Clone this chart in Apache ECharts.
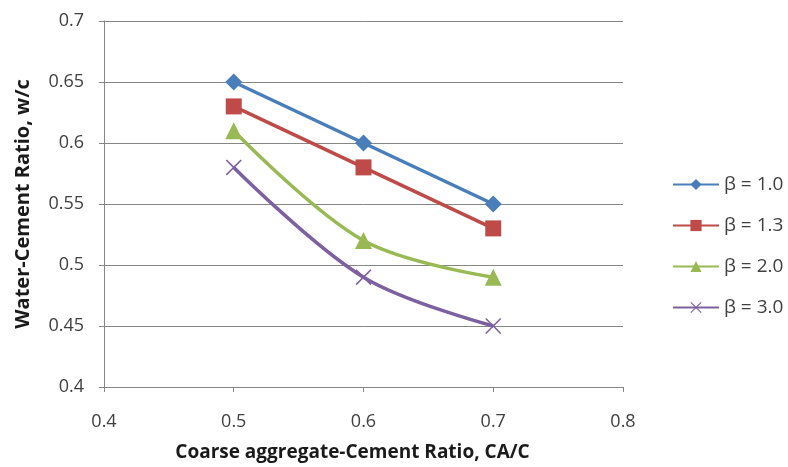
<!DOCTYPE html>
<html>
<head>
<meta charset="utf-8">
<script src="https://cdn.jsdelivr.net/npm/echarts@6/dist/echarts.min.js"></script>
<style>
  html, body { margin: 0; padding: 0; background: #fff; }
  #chart { width: 788px; height: 467px; }
</style>
</head>
<body>
<div id="chart"></div>
<script>
const xValues = [0.5, 0.6, 0.7]
const beta10 = [0.65, 0.60, 0.55]
const beta13 = [0.63, 0.58, 0.53]
const beta20 = [0.61, 0.52, 0.49]
const beta30 = [0.58, 0.49, 0.45]
const seriesNames = ['β = 1.0', 'β = 1.3', 'β = 2.0', 'β = 3.0']

const pair = (ys) => xValues.map((x, i) => [x, ys[i]])

// X marker drawn as a thin filled cross
const crossPath = 'path://M0,7L7,0L50,43L93,0L100,7L57,50L100,93L93,100L50,57L7,100L0,93L43,50Z'

const chart = echarts.init(document.getElementById('chart'))
const font = "'Open Sans', 'DejaVu Sans', sans-serif"

const axisCommon = {
  axisLine: { show: true, lineStyle: { color: '#868686', width: 1 } },
  axisTick: { show: true, inside: false, length: 5, lineStyle: { color: '#868686' } },
  axisLabel: { color: '#404040', fontSize: 18, fontFamily: font },
  nameTextStyle: { color: '#1a1a1a', fontSize: 19, fontWeight: 'bold', fontFamily: font },
}

function lineSeries(name, ys, color, symbol, smooth, size) {
  return {
    name,
    type: 'line',
    data: pair(ys),
    smooth,
    symbol,
    symbolSize: size,
    showSymbol: true,
    lineStyle: { color, width: 3.5 },
    itemStyle: { color },
    emphasis: { disabled: true },
  }
}

chart.setOption({
  backgroundColor: '#fff',
  animation: false,
  grid: { left: 104, right: 165, top: 21, bottom: 80 },
  legend: {
    orient: 'vertical',
    left: 667,
    top: 170,
    itemWidth: 46,
    itemHeight: 14,
    itemGap: 22,
    textStyle: { color: '#404040', fontSize: 19, fontFamily: font },
    data: seriesNames,
  },
  xAxis: {
    ...axisCommon,
    type: 'value',
    min: 0.4,
    max: 0.8,
    interval: 0.1,
    name: 'Coarse aggregate-Cement Ratio, CA/C',
    nameLocation: 'middle',
    nameGap: 56,
    nameTextStyle: { ...axisCommon.nameTextStyle, padding: [0, 22, 0, 0] },
    splitLine: { show: false },
    axisLabel: { ...axisCommon.axisLabel, margin: 26, formatter: (v) => +v.toFixed(1) + '' },
  },
  yAxis: {
    ...axisCommon,
    type: 'value',
    min: 0.4,
    max: 0.7,
    interval: 0.05,
    name: 'Water-Cement Ratio, w/c',
    nameLocation: 'middle',
    nameGap: 71,
    nameTextStyle: { ...axisCommon.nameTextStyle, fontSize: 20 },
    splitLine: { show: true, lineStyle: { color: '#868686', width: 1 } },
    axisLabel: { ...axisCommon.axisLabel, margin: 20, formatter: (v) => +v.toFixed(2) + '' },
  },
  series: [
    lineSeries(seriesNames[0], beta10, '#4A7EBB', 'diamond', false, 17),
    lineSeries(seriesNames[1], beta13, '#BE4B48', 'rect', false, 16),
    lineSeries(seriesNames[2], beta20, '#98B954', 'triangle', 0.35, 17),
    lineSeries(seriesNames[3], beta30, '#7D60A0', crossPath, 0.35, 16),
  ],
})
</script>
</body>
</html>
